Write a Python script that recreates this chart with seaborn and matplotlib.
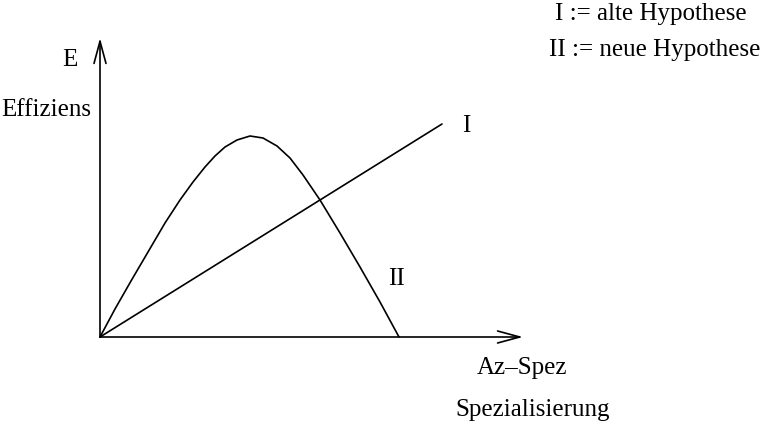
import matplotlib
matplotlib.use("Agg")
import matplotlib.pyplot as plt
import seaborn as sns
import pandas as pd

# Data (units: arbitrary, origin at axes crossing)
curve_x = [0, 15, 31, 48, 65, 80, 93, 105, 115, 125, 137, 150, 163, 177, 190, 203, 220, 240, 260, 280, 299]
curve_y = [0, 28, 56, 85, 114, 137, 155, 170, 181, 190, 197, 201, 199, 191, 179, 162, 137, 104, 70, 35, 0]
line_x = [0, 342]
line_y = [0, 213]

labels_legend = ["I := alte Hypothese", "II := neue Hypothese"]

sns.set_theme(style="white")
plt.rcParams["font.family"] = ["Liberation Serif", "DejaVu Serif"]

fig = plt.figure(figsize=(7.75, 4.25), dpi=100)
ax = fig.add_axes([0, 0, 1, 1])
ax.set_xlim(-100, 675)
ax.set_ylim(-88, 337)
ax.axis("off")

df_curve = pd.DataFrame({"x": curve_x, "y": curve_y})
df_line = pd.DataFrame({"x": line_x, "y": line_y})
sns.lineplot(data=df_curve, x="x", y="y", ax=ax, color="black", lw=1.2, sort=False)
sns.lineplot(data=df_line, x="x", y="y", ax=ax, color="black", lw=1.2, sort=False)
for l in ax.lines:
    l.set_solid_joinstyle("round")

arrow = dict(arrowstyle="->,head_length=1.0,head_width=0.27", color="black",
             lw=1.2, shrinkA=0, shrinkB=0, mutation_scale=16)
ax.annotate("", xy=(423, 0), xytext=(0, 0), arrowprops=arrow)
ax.annotate("", xy=(0, 299), xytext=(0, 0), arrowprops=arrow)

fs = 18
def t(px, py, s):
    ax.text(px - 100, 337 - py, s, ha="center", va="center", fontsize=fs, color="black")

t(70, 60, "E")
t(46, 110, "Effiziens")
t(466, 126, "I")
t(396, 279, "II")
t(522, 368, "Az\u2013Spez")
t(533, 410, "Spezialisierung")
t(651, 14, labels_legend[0])
t(655, 50, labels_legend[1])

fig.savefig("out.png", dpi=100)
